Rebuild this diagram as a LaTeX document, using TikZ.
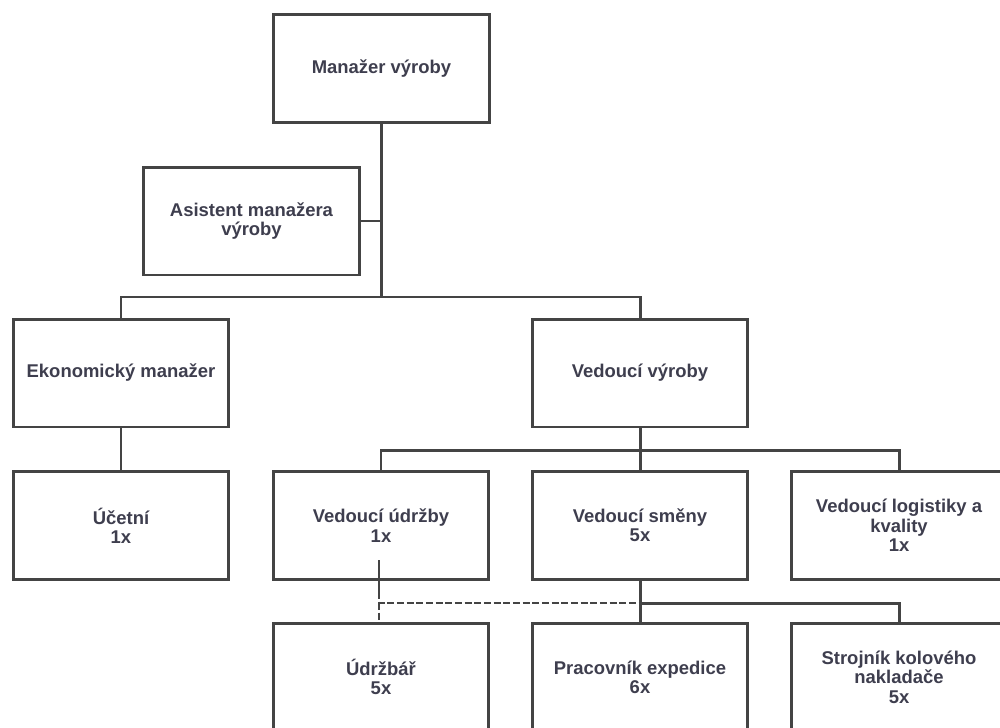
\documentclass[tikz,border=0pt]{standalone}
\usepackage{fontspec}
\setmainfont{Liberation Sans}
\usepackage{tikz}
\usepackage{xcolor}
\definecolor{linegray}{RGB}{68,68,68}
\definecolor{textgray}{RGB}{62,62,78}

\begin{document}
\begin{tikzpicture}[x=0.02cm,y=-0.02cm,%
          box/.style={draw=linegray,line width=1.7pt,fill=white,minimum width=4.32cm,minimum height=2.16cm,
            align=center,text=textgray,font=\bfseries\fontsize{10.5}{11}\selectfont,inner sep=2pt},
          link/.style={draw=linegray,line width=1.7pt},
          dlink/.style={draw=linegray,line width=1.5pt,dash pattern=on 4pt off 1.5pt}]
          \useasboundingbox (0,0) rectangle (1000,727);
          \clip (0,0) rectangle (1000,727);
          \node[box] (manazer) at (381.5,68.5) {Manažer výroby};
          \node[box] (asistent) at (251.5,221) {Asistent manažera\\výroby};
          \node[box] (ekonom) at (121,373) {Ekonomický manažer};
          \node[box] (vyroba) at (640,373) {Vedoucí výroby};
          \node[box] (ucetni) at (121,525.5) {Účetní\\1x};
          \node[box] (udrzby) at (381,525.5) {Vedoucí údržby\\1x};
          \node[box] (smeny) at (640,525.5) {Vedoucí směny\\5x};
          \node[box] (logistika) at (899,525.5) {Vedoucí logistiky a\\kvality\\1x};
          \node[box] (udrzbar) at (381,677) {Údržbář\\5x};
          \node[box] (pracovnik) at (640,677) {Pracovník expedice\\6x};
          \node[box] (strojnik) at (899,677) {Strojník kolového\\nakladače\\5x};
          \coordinate (top) at (manazer.south |- 0,297);
          \coordinate (mid) at (vyroba.south |- 0,450);
          \coordinate (low) at (smeny.south |- 0,603);
          \coordinate (maint) at (379,560);
          \path[link] (manazer.south) -- (top);
          \path[link] (asistent.east) -- (asistent.east -| top);
          \path[link] (ekonom.north) |- (top) -| (vyroba.north);
          \path[link] (ekonom.south) -- (ucetni.north);
          \path[link] (vyroba.south) -- (mid);
          \path[link] (udrzby.north) |- (mid) -| (logistika.north);
          \path[link] (smeny.north) -- (mid);
          \path[link] (smeny.south) -- (pracovnik.north);
          \path[link] (low) -| (strojnik.north);
          \path[link] (maint) -- (maint |- 0,592);
          \path[dlink] (maint |- 0,592) |- (low);
          \path[dlink] (maint |- low) -- (udrzbar.north -| maint);
\end{tikzpicture}
\end{document}
